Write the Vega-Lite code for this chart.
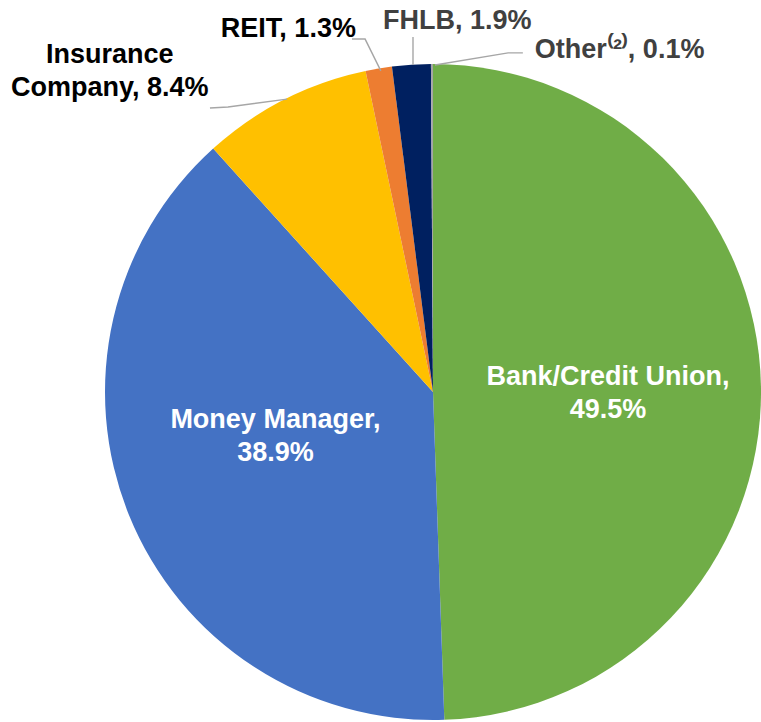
{
  "$schema": "https://vega.github.io/schema/vega-lite/v6.json",
  "width": 656,
  "height": 656,
  "autosize": {"type": "none"},
  "padding": {"left": 105, "top": 64, "right": 0, "bottom": 2},
  "background": "white",
  "config": {"view": {"stroke": null}, "text": {"font": "Liberation Sans", "fontWeight": "bold", "fontSize": 27, "lineHeight": 33}},
  "datasets": {
    "pie": [
      {"idx": 1, "segment": "Bank/Credit Union", "share": 49.5, "label": "Bank/Credit Union,\n49.5%"},
      {"idx": 2, "segment": "Money Manager", "share": 38.9, "label": "Money Manager,\n38.9%"},
      {"idx": 3, "segment": "Insurance Company", "share": 8.4, "label": "Insurance\nCompany, 8.4%"},
      {"idx": 4, "segment": "REIT", "share": 1.3, "label": "REIT, 1.3%"},
      {"idx": 5, "segment": "FHLB", "share": 1.9, "label": "FHLB, 1.9%"},
      {"idx": 6, "segment": "Other", "share": 0.1, "label": "Other⁽²⁾, 0.1%"}
    ],
    "leaders": [
      {"leader": "Insurance Company", "seq": 1, "u": -0.680, "v": 0.866},
      {"leader": "Insurance Company", "seq": 2, "u": -0.625, "v": 0.869},
      {"leader": "Insurance Company", "seq": 3, "u": -0.445, "v": 0.893},
      {"leader": "REIT", "seq": 1, "u": -0.247, "v": 1.076},
      {"leader": "REIT", "seq": 2, "u": -0.207, "v": 1.076},
      {"leader": "REIT", "seq": 3, "u": -0.159, "v": 0.979},
      {"leader": "FHLB", "seq": 1, "u": -0.061, "v": 1.082},
      {"leader": "FHLB", "seq": 2, "u": -0.061, "v": 0.997},
      {"leader": "Other", "seq": 1, "u": 0.274, "v": 1.034},
      {"leader": "Other", "seq": 2, "u": 0.229, "v": 1.034},
      {"leader": "Other", "seq": 3, "u": 0.006, "v": 0.997}
    ]
  },
  "layer": [
    {
      "data": {"name": "pie"},
      "mark": {"type": "arc", "outerRadius": 328},
      "encoding": {
        "theta": {"field": "share", "type": "quantitative", "stack": true},
        "order": {"field": "idx", "type": "quantitative"},
        "color": {
          "field": "segment", "type": "nominal", "legend": null,
          "scale": {
            "domain": ["Bank/Credit Union", "Money Manager", "Insurance Company", "REIT", "FHLB", "Other"],
            "range": ["#70AD47", "#4472C4", "#FFC000", "#ED7D31", "#002060", "#A5A5A5"]
          }
        }
      }
    },
    {
      "data": {"name": "leaders"},
      "mark": {"type": "line", "color": "#A6A6A6", "strokeWidth": 1.4},
      "encoding": {
        "x": {"field": "u", "type": "quantitative", "axis": null, "scale": {"domain": [-1, 1], "nice": false, "zero": false}},
        "y": {"field": "v", "type": "quantitative", "axis": null, "scale": {"domain": [-1, 1], "nice": false, "zero": false}},
        "detail": {"field": "leader"},
        "order": {"field": "seq", "type": "quantitative"}
      }
    },
    {
      "data": {"name": "pie"},
      "mark": {"type": "text", "radius": 175, "dy": -12, "color": "white", "align": "center", "baseline": "middle", "lineBreak": "\n"},
      "encoding": {
        "theta": {"field": "share", "type": "quantitative", "stack": true},
        "order": {"field": "idx", "type": "quantitative"},
        "text": {"condition": {"test": "datum.segment === 'Bank/Credit Union'", "field": "label"}, "value": ""}
      }
    },
    {
      "data": {"name": "pie"},
      "mark": {"type": "text", "radius": 170, "dy": -36, "color": "white", "align": "center", "baseline": "middle", "lineBreak": "\n"},
      "encoding": {
        "theta": {"field": "share", "type": "quantitative", "stack": true},
        "order": {"field": "idx", "type": "quantitative"},
        "text": {"condition": {"test": "datum.segment === 'Money Manager'", "field": "label"}, "value": ""}
      }
    },
    {
      "data": {"name": "pie"},
      "mark": {"type": "text", "radius": 360, "dx": -160, "dy": -16, "color": "#000000", "align": "center", "baseline": "middle", "lineBreak": "\n"},
      "encoding": {
        "theta": {"field": "share", "type": "quantitative", "stack": true},
        "order": {"field": "idx", "type": "quantitative"},
        "text": {"condition": {"test": "datum.segment === 'Insurance Company'", "field": "label"}, "value": ""}
      }
    },
    {
      "data": {"name": "pie"},
      "mark": {"type": "text", "radius": 360, "dx": -85, "dy": -8, "color": "#000000", "align": "center", "baseline": "middle", "lineBreak": "\n"},
      "encoding": {
        "theta": {"field": "share", "type": "quantitative", "stack": true},
        "order": {"field": "idx", "type": "quantitative"},
        "text": {"condition": {"test": "datum.segment === 'REIT'", "field": "label"}, "value": ""}
      }
    },
    {
      "data": {"name": "pie"},
      "mark": {"type": "text", "radius": 360, "dx": 48, "dy": -12, "color": "#404040", "align": "center", "baseline": "middle", "lineBreak": "\n"},
      "encoding": {
        "theta": {"field": "share", "type": "quantitative", "stack": true},
        "order": {"field": "idx", "type": "quantitative"},
        "text": {"condition": {"test": "datum.segment === 'FHLB'", "field": "label"}, "value": ""}
      }
    },
    {
      "data": {"name": "pie"},
      "mark": {"type": "text", "radius": 360, "dx": 103, "dy": 18, "color": "#404040", "align": "left", "baseline": "middle", "lineBreak": "\n"},
      "encoding": {
        "theta": {"field": "share", "type": "quantitative", "stack": true},
        "order": {"field": "idx", "type": "quantitative"},
        "text": {"condition": {"test": "datum.segment === 'Other'", "field": "label"}, "value": ""}
      }
    }
  ]
}
